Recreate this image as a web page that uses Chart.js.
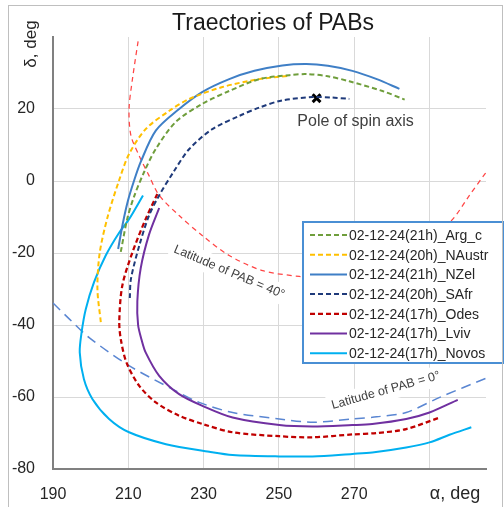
<!DOCTYPE html>
<html>
<head>
<meta charset="utf-8">
<script src="https://cdn.jsdelivr.net/npm/chart.js@4.4.1/dist/chart.umd.min.js"></script>
<style>
  html, body { margin: 0; padding: 0; background: #fff; }
  #wrap { width: 504px; height: 507px; }
</style>
</head>
<body>
<div id="wrap"><canvas id="pabChart" width="504" height="507"></canvas></div>
<script>
// Trajectories of PABs: alpha (deg) vs delta (deg)
const xTicks = [190, 210, 230, 250, 270, 290];
const yTicks = [-80, -60, -40, -20, 0, 20, 40];

const seriesNames = [
  "02-12-24(21h)_Arg_c",
  "02-12-24(20h)_NAustr",
  "02-12-24(21h)_NZel",
  "02-12-24(20h)_SAfr",
  "02-12-24(17h)_Odes",
  "02-12-24(17h)_Lviv",
  "02-12-24(17h)_Novos",
];

const argC = [[208,-19.7],[209.7,-10.6],[211.5,-4.4],[214.2,2.5],[217.3,8.9],[222.6,16.4],[229.6,21.4],[236.8,25],[244.8,28.3],[252.8,29.4],[257.3,29.7],[263,29.1],[268.7,27.7],[277.5,25],[283.4,22.6]];
const nAustr = [[202.7,-39.2],[201.8,-30],[202.4,-20],[204.5,-10],[207.5,0],[210.2,7.5],[214.6,14.4],[220.9,19.5],[226.2,22.8],[235,26.1],[244.8,28.3],[252.8,29.2]];
const nZel = [[207.3,-18.9],[208.5,-12],[209.9,-5.5],[211.5,0],[213.3,5.3],[217.3,14],[223.5,20],[229.6,24.7],[236.8,28.3],[243.5,30.6],[250.9,32.1],[257.3,32.5],[263,32],[269.5,30.6],[276,28.3],[282,25.6]];
const sAfr = [[210.4,-32.5],[210.7,-27.2],[212.9,-18],[215.5,-9.6],[218.2,-4],[222,2.5],[226.2,8.9],[232.3,14.4],[239.5,18.1],[244.8,20.4],[250.9,22.4],[258.9,23.3],[264,23.2],[268.7,22.8]];
const odes = [[217.7,-3.6],[214.6,-10.6],[211.1,-19.8],[208.4,-29.1],[207.6,-39],[208,-43.9],[209.5,-50.4],[212.9,-56.9],[217.3,-61.5],[223.5,-65.2],[230,-67.6],[237.7,-69.8],[250.1,-70.9],[258.9,-71.2],[269.5,-70.4],[276,-70],[283.8,-68.9],[292.7,-65.7]];
const lviv = [[218.2,-7.5],[215.5,-14.9],[213.3,-24.2],[212.4,-33.4],[212.6,-40],[213.5,-44],[214.6,-47.6],[218.2,-54.1],[223.5,-59.2],[230,-62.6],[237.7,-65.7],[250.1,-67.8],[258.9,-68.2],[269.5,-67.8],[274.8,-67.5],[283.8,-66.1],[290,-64.3],[297.5,-60.8]];
const novos = [[213.9,-4],[210.2,-10.6],[207.6,-14.3],[204,-20.7],[200.9,-28.1],[198.7,-35.6],[197.6,-42],[197.1,-47.6],[198.2,-55],[200.5,-60.6],[204.9,-66.1],[210.2,-69.8],[220,-73.1],[231.5,-75.2],[237.7,-76.1],[250.1,-76.5],[258.9,-76.5],[269.5,-75.8],[274.8,-75.4],[283.8,-74],[290,-72.6],[295.3,-70.5],[301.1,-68.4]];
const lat40 = [[212.6,38.8],[211.1,28.3],[210.2,20],[210.7,12.6],[212.9,7],[215.5,1.5],[218.2,-4],[223.5,-9.6],[229.7,-15.2],[236.8,-20.7],[245.7,-24.9],[255.4,-26.5],[263,-27],[271,-25.8],[280,-22.5],[288,-17.5],[295.8,-11],[300.6,-4],[305,2.4]];
const lat0 = [[190,-33.9],[194.3,-38.3],[199.6,-43.5],[210.2,-51.3],[221.7,-57.8],[228.8,-61.5],[237.7,-64.3],[250.1,-66.1],[259.2,-67],[269.6,-66.1],[276,-65.5],[283.8,-64.3],[292.7,-60.1],[305,-54.8]];
const pole = [[260, 23]];

// text labels placed in data units
const notes = [
  { text: "Pole of spin axis", x: 254.9, y: 16.4, angle: 0, size: 16, align: "left", box: false },
  { text: "Latitude of PAB = 40°", x: 236.8, y: -25.3, angle: 23, size: 12.5, align: "center", box: true },
  { text: "Latitude of PAB = 0°", x: 278.4, y: -58.2, angle: -15.7, size: 12.5, align: "center", box: true },
];

const FONT = '"Liberation Sans", Arial, sans-serif';

function pts(arr) {
  return arr.map((p) => ({ x: p[0], y: p[1] }));
}

function line(label, arr, color, dash, width) {
  return {
    label: label,
    data: pts(arr),
    showLine: true,
    borderColor: color,
    backgroundColor: color,
    borderWidth: width,
    borderDash: dash,
    pointRadius: 0,
    tension: 0.3,
    fill: false,
  };
}

const datasets = [
  line(seriesNames[0], argC, "#6f9e3c", [5, 3], 2),
  line(seriesNames[1], nAustr, "#ffc000", [5, 3], 2),
  line(seriesNames[2], nZel, "#3f7fc6", [], 2),
  line(seriesNames[3], sAfr, "#1f3a7a", [5, 3], 2),
  line(seriesNames[4], odes, "#c00000", [5, 3], 2.25),
  line(seriesNames[5], lviv, "#7030a0", [], 2),
  line(seriesNames[6], novos, "#00b0f0", [], 2),
  line("lat40", lat40, "#ff4545", [5, 4], 1.25),
  line("lat0", lat0, "#5a86d2", [10, 6], 1.5),
  {
    label: "pole",
    data: pts(pole),
    showLine: false,
    pointStyle: "crossRot",
    pointRadius: 5.5,
    pointBorderWidth: 3,
    borderColor: "#000",
    backgroundColor: "#000",
  },
];

// white boxes behind the rotated notes (hide gridlines, not curves)
const noteBoxes = {
  id: "noteBoxes",
  beforeDatasetsDraw(chart) {
    const { ctx, scales } = chart;
    notes.forEach((n) => {
      if (!n.box) return;
      ctx.save();
      ctx.font = n.size + "px " + FONT;
      const w = ctx.measureText(n.text).width;
      ctx.translate(scales.x.getPixelForValue(n.x), scales.y.getPixelForValue(n.y));
      ctx.rotate((n.angle * Math.PI) / 180);
      ctx.fillStyle = "#fff";
      ctx.fillRect(-w / 2 - 4, -n.size / 2 - 4, w + 8, n.size + 8);
      ctx.restore();
    });
  },
};

const decorations = {
  id: "decorations",
  afterDatasetsDraw(chart) {
    const { ctx, scales } = chart;

    // notes
    notes.forEach((n) => {
      ctx.save();
      ctx.font = n.size + "px " + FONT;
      ctx.fillStyle = "#404040";
      ctx.textAlign = n.align;
      ctx.textBaseline = "middle";
      ctx.translate(scales.x.getPixelForValue(n.x), scales.y.getPixelForValue(n.y));
      ctx.rotate((n.angle * Math.PI) / 180);
      ctx.fillText(n.text, 0, 0);
      ctx.restore();
    });

    // legend box
    const lx = 303, ly = 222, lw = 200, lh = 141;
    ctx.save();
    ctx.fillStyle = "#fff";
    ctx.fillRect(lx, ly, lw, lh);
    ctx.strokeStyle = "#4a8fd4";
    ctx.lineWidth = 2;
    ctx.strokeRect(lx, ly, lw, lh);
    ctx.font = "14px " + FONT;
    ctx.textBaseline = "middle";
    ctx.textAlign = "left";
    for (let i = 0; i < seriesNames.length; i++) {
      const ds = chart.data.datasets[i];
      const yy = ly + 13 + i * 19.7;
      ctx.beginPath();
      ctx.setLineDash(ds.borderDash);
      ctx.strokeStyle = ds.borderColor;
      ctx.lineWidth = ds.borderWidth;
      ctx.moveTo(310, yy);
      ctx.lineTo(347, yy);
      ctx.stroke();
      ctx.setLineDash([]);
      ctx.fillStyle = "#262626";
      ctx.fillText(seriesNames[i], 349, yy + 1);
    }
    ctx.restore();
  },
  afterDraw(chart) {
    const { ctx } = chart;
    ctx.save();
    // outer frame
    ctx.strokeStyle = "#bfbfbf";
    ctx.lineWidth = 1;
    ctx.strokeRect(8.5, 5.5, 494, 520);
    // title
    ctx.fillStyle = "#1a1a1a";
    ctx.font = "23px " + FONT;
    ctx.textAlign = "center";
    ctx.textBaseline = "middle";
    ctx.fillText("Traectories of PABs", 273, 24);
    // axis titles
    ctx.fillStyle = "#262626";
    ctx.font = "18px " + FONT;
    ctx.fillText("α, deg", 455, 494);
    ctx.translate(31, 44);
    ctx.rotate(-Math.PI / 2);
    ctx.font = "17px " + FONT;
    ctx.fillText("δ, deg", 0, 0);
    ctx.restore();
  },
};

new Chart(document.getElementById("pabChart"), {
  type: "scatter",
  data: { datasets: datasets },
  options: {
    responsive: false,
    animation: false,
    devicePixelRatio: 1,
    layout: { padding: { left: 0, top: 37, right: 18, bottom: 0 } },
    plugins: {
      legend: { display: false },
      tooltip: { enabled: false },
    },
    scales: {
      x: {
        type: "linear",
        min: 190,
        max: 305,
        afterBuildTicks: (s) => { s.ticks = xTicks.map((v) => ({ value: v })); },
        afterFit: (s) => { s.height = 38; },
        ticks: {
          padding: 16,
          color: "#262626",
          font: { family: FONT, size: 16 },
          maxRotation: 0,
          autoSkip: false,
          callback: (v) => (v === 290 ? "" : v),
        },
        grid: {
          drawTicks: false,
          color: (c) => (c.tick && c.tick.value === 190 ? "rgba(0,0,0,0)" : "#d9d9d9"),
        },
        border: { color: "#808080", width: 2 },
      },
      y: {
        type: "linear",
        min: -80,
        max: 40,
        afterBuildTicks: (s) => { s.ticks = yTicks.map((v) => ({ value: v })); },
        afterFit: (s) => { s.width = 53; },
        ticks: {
          padding: 18,
          color: "#262626",
          font: { family: FONT, size: 16 },
          autoSkip: false,
          callback: (v) => (v === 40 ? "" : v),
        },
        grid: {
          drawTicks: false,
          color: (c) => (c.tick && (c.tick.value === 40 || c.tick.value === -80) ? "rgba(0,0,0,0)" : "#d9d9d9"),
        },
        border: { color: "#808080", width: 2 },
      },
    },
  },
  plugins: [noteBoxes, decorations],
});
</script>
</body>
</html>
